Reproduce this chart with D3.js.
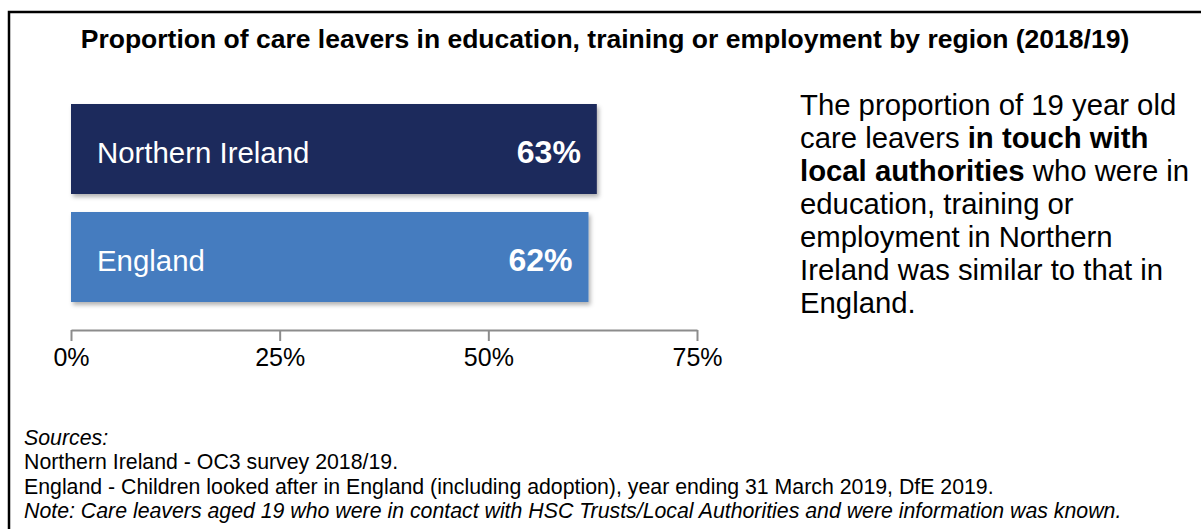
<!DOCTYPE html>
<html><head><meta charset="utf-8">
<script src="https://cdn.jsdelivr.net/npm/d3@7"></script>
<style>
html,body{margin:0;padding:0;background:#fff;}
svg{display:block;font-family:"Liberation Sans",Arial,sans-serif;}
</style></head>
<body>
<svg id="chart" width="1201" height="529"></svg>
<script>
const title = "Proportion of care leavers in education, training or employment by region (2018/19)";
const categories = ["Northern Ireland", "England"];
const values = [63, 62];
const barColors = ["#1d2a5b", "#447bbf"];
const tickValues = [0, 25, 50, 75];
const tickLabels = ["0%", "25%", "50%", "75%"];
const commentary = [
  [["The proportion of 19 year old", false]],
  [["care leavers ", false], ["in touch with", true]],
  [["local authorities", true], [" who were in", false]],
  [["education, training or", false]],
  [["employment in Northern", false]],
  [["Ireland was similar to that in", false]],
  [["England.", false]]
];
const footer = [
  ["Sources:", true],
  ["Northern Ireland - OC3 survey 2018/19.", false],
  ["England - Children looked after in England (including adoption), year ending 31 March 2019, DfE 2019.", false],
  ["Note: Care leavers aged 19 who were in contact with HSC Trusts/Local Authorities and were information was known.", true]
];

const svg = d3.select("#chart");
const defs = svg.append("defs");
const f = defs.append("filter").attr("id","shadow").attr("x","-5%").attr("y","-10%").attr("width","115%").attr("height","130%");
f.append("feDropShadow").attr("dx",2).attr("dy",3).attr("stdDeviation",2).attr("flood-color","#000").attr("flood-opacity",0.3);

// frame
svg.append("rect").attr("x",9).attr("y",12).attr("width",1220).attr("height",540)
  .attr("fill","none").attr("stroke","#000").attr("stroke-width",2.5);

// title
svg.append("text").attr("x",605).attr("y",47.5).attr("text-anchor","middle")
  .attr("font-size",26.5).attr("font-weight","bold").attr("fill","#000").text(title);

const x = d3.scaleLinear().domain([0,75]).range([71,697]);
const y = d3.scaleBand().domain(categories).range([104,302]).paddingInner(18/108).paddingOuter(0);

const g = svg.append("g");
const bars = g.selectAll("g.bar").data(categories.map((c,i)=>({c, v:values[i], col:barColors[i]})))
  .join("g").attr("class","bar");
bars.append("rect")
  .attr("x", x(0)).attr("y", d=>y(d.c))
  .attr("width", d=>x(d.v)-x(0)).attr("height", y.bandwidth())
  .attr("fill", d=>d.col).attr("filter","url(#shadow)");
bars.append("text")
  .attr("x", x(0)+26).attr("y", d=>y(d.c)+y.bandwidth()/2+14)
  .attr("font-size",29.4).attr("fill","#fff").text(d=>d.c);
bars.append("text")
  .attr("x", d=>x(d.v)-16).attr("y", d=>y(d.c)+y.bandwidth()/2+14)
  .attr("text-anchor","end").attr("font-size",32).attr("font-weight","bold")
  .attr("fill","#fff").text(d=>d.v+"%");

// axis
const axis = d3.axisBottom(x).tickValues(tickValues)
  .tickFormat((d,i)=>tickLabels[i]).tickSizeInner(11).tickSizeOuter(0);
const ag = svg.append("g").attr("transform","translate(0,330)").call(axis);
ag.select(".domain").attr("stroke","#8c8c8c").attr("stroke-width",2);
ag.selectAll(".tick line").attr("stroke","#8c8c8c").attr("stroke-width",2);
ag.selectAll(".tick text").attr("y",36).attr("dy",null)
  .attr("font-size",25).attr("font-family","'Liberation Sans',Arial,sans-serif").attr("fill","#000");

// commentary
const ct = svg.append("g");
commentary.forEach((line,i)=>{
  const t = ct.append("text").attr("x",800).attr("y",115+i*33).attr("font-size",29.3).attr("fill","#000");
  line.forEach(([s,b])=>{
    t.append("tspan").attr("font-weight", b?"bold":"normal").text(s);
  });
});

// footer
footer.forEach(([s,it],i)=>{
  svg.append("text").attr("x",24).attr("y",445+i*24.3).attr("font-size",21.3)
    .attr("font-style", it?"italic":"normal").attr("fill","#000").text(s);
});
</script>
</body></html>
